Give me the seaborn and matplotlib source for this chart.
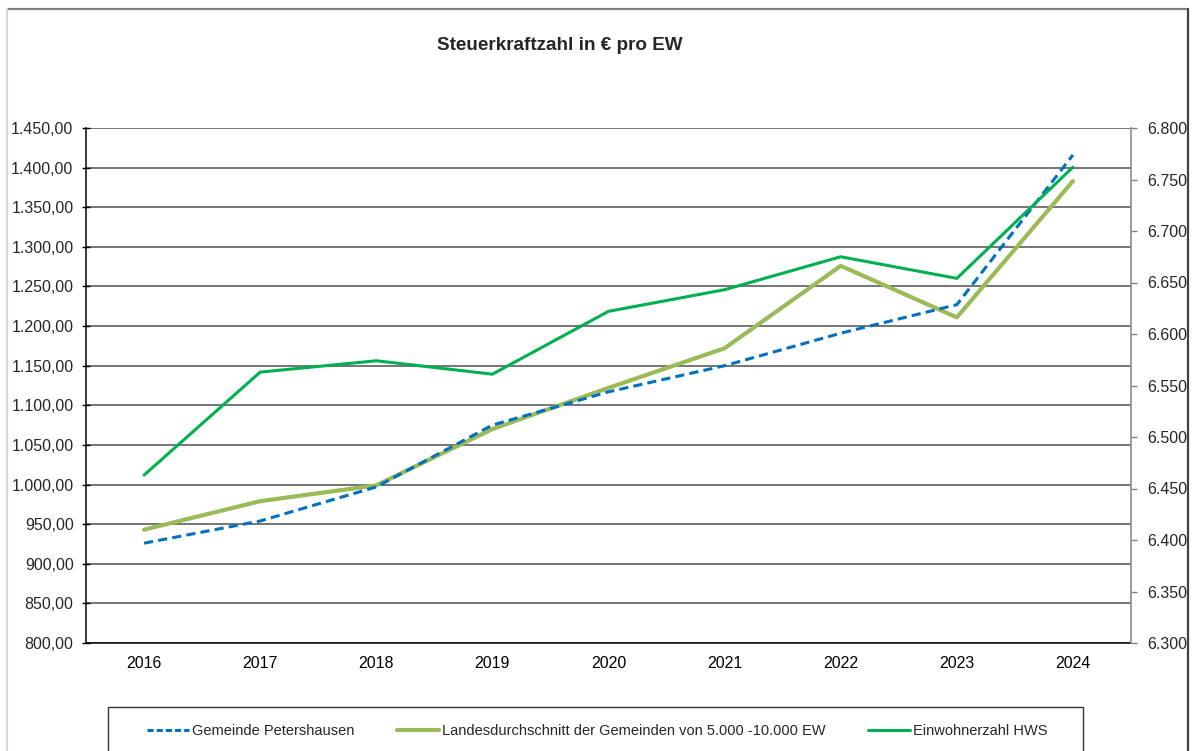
import pandas as pd
import matplotlib.pyplot as plt
import seaborn as sns
from matplotlib.ticker import FuncFormatter, MultipleLocator
from matplotlib.lines import Line2D
from matplotlib.patches import Rectangle

# --- Daten ---
years = [2016, 2017, 2018, 2019, 2020, 2021, 2022, 2023, 2024]
petershausen = [926, 954, 997, 1075, 1117, 1150, 1191, 1227, 1416]
landesschnitt = [943, 979, 999, 1070, 1122, 1172, 1276, 1211, 1383]
einwohner = [6463, 6563, 6574, 6561, 6622, 6643, 6675, 6654, 6762]

label_pet = 'Gemeinde Petershausen'
label_land = 'Landesdurchschnitt der Gemeinden von 5.000 -10.000 EW'
label_ew = 'Einwohnerzahl HWS'

df = pd.DataFrame({'Jahr': years, 'pet': petershausen,
                   'land': landesschnitt, 'ew': einwohner})

sns.set_style('white')
plt.rcParams['font.family'] = ['Liberation Sans', 'DejaVu Sans']

fig = plt.figure(figsize=(11.95, 7.51), dpi=100)
W, H = 1195, 751
ax = fig.add_axes([86 / W, 1 - 643 / H, (1131 - 86) / W, (643 - 128) / H])
ax2 = ax.twinx()

sns.lineplot(data=df, x='Jahr', y='land', ax=ax, color='#9BBB59', linewidth=3.0,
             label=label_land, legend=False)
sns.lineplot(data=df, x='Jahr', y='pet', ax=ax, color='#0070C0', linewidth=2.2,
             linestyle=(0, (3, 1.7)), label=label_pet, legend=False)
sns.lineplot(data=df, x='Jahr', y='ew', ax=ax2, color='#00B050', linewidth=2.2,
             label=label_ew, legend=False)

# Achsen links
ax.set_xlim(2015.5, 2024.5)
ax.set_ylim(800, 1450)
ax.yaxis.set_major_locator(MultipleLocator(50))
ax.yaxis.set_major_formatter(FuncFormatter(
    lambda v, p: f'{v:,.2f}'.replace(',', 'X').replace('.', ',').replace('X', '.')))
ax.set_xticks(years)
ax.set_xticklabels([str(y) for y in years])
ax.set_xticks([y + 0.5 for y in years[:-1]], minor=True)
ax.tick_params(axis='x', which='major', length=0, pad=9, labelsize=11.5, colors='black')
ax.tick_params(axis='x', which='minor', direction='in', length=4, width=1, color='black')
ax.tick_params(axis='y', direction='inout', length=6, width=1, color='black',
               labelsize=11.5, pad=6, left=True)
ax.grid(axis='y', color='#505050', linewidth=1.1)
ax.grid(axis='x', visible=False)
ax.set_axisbelow(True)
ax.set_xlabel('')
ax.set_ylabel('')
ax.spines['top'].set_visible(False)
ax.spines['right'].set_visible(False)
ax.spines['left'].set_color('black')
ax.spines['bottom'].set_color('black')
ax.spines['left'].set_linewidth(1.1)
ax.spines['bottom'].set_linewidth(1.1)

# Achse rechts
ax2.set_ylim(6300, 6800)
ax2.yaxis.set_major_locator(MultipleLocator(50))
ax2.yaxis.set_major_formatter(FuncFormatter(lambda v, p: f'{v:,.0f}'.replace(',', '.')))
ax2.tick_params(axis='y', direction='out', length=4, width=1, color='#808080',
                labelsize=11.5, pad=8, right=True)
ax2.set_ylabel('')
ax2.grid(False)
for s in ['top', 'left', 'bottom']:
    ax2.spines[s].set_visible(False)
ax2.spines['right'].set_color('#8C8C8C')
ax2.spines['right'].set_linewidth(1.2)

# Titel
fig.text(560 / W, 1 - 45 / H, 'Steuerkraftzahl in € pro EW', ha='center', va='center',
         fontsize=13.6, fontweight='bold')

# Legende
handles = [Line2D([], [], color='#0070C0', linewidth=2.2, linestyle=(0, (2, 1))),
           Line2D([], [], color='#9BBB59', linewidth=3.0),
           Line2D([], [], color='#00B050', linewidth=2.2)]
fig.patches.append(Rectangle((108 / W, 1 - 765 / H), (1083 - 108) / W, (765 - 707) / H,
                             transform=fig.transFigure, fill=False, edgecolor='#333333',
                             linewidth=1.0))
fig.legend(handles, [label_pet, label_land, label_ew], loc='center left',
           bbox_to_anchor=(147 / W, 1 - 731 / H), ncol=3, frameon=False,
           fontsize=10.5, handlelength=2.9, handletextpad=0.2, columnspacing=2.9,
           borderpad=0, borderaxespad=0)

# Rahmen
fig.add_artist(Line2D([7 / W, 1188 / W], [1 - 9 / H, 1 - 9 / H], transform=fig.transFigure,
                      color='#808080', linewidth=1.6))
fig.add_artist(Line2D([7 / W, 7 / W], [1 - 9 / H, 0], transform=fig.transFigure,
                      color='#D9D9D9', linewidth=1.6))
fig.add_artist(Line2D([1188 / W, 1188 / W], [1 - 9 / H, 0], transform=fig.transFigure,
                      color='#404040', linewidth=1.6))

fig.savefig('out.png', dpi=100)
plt.close(fig)
